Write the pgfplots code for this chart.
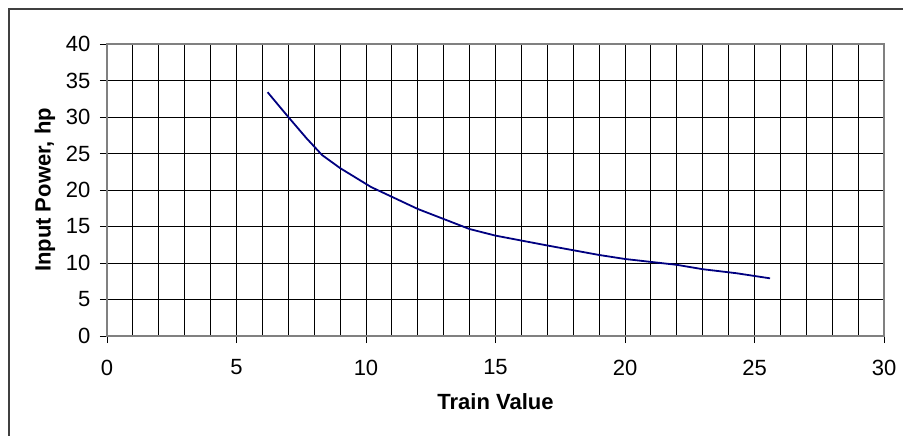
\documentclass[border=0pt]{standalone}
\usepackage{pgfplots}
\pgfplotsset{compat=1.18}
\usepackage{fontspec}
\setmainfont{Liberation Sans}
\definecolor{navyline}{RGB}{0,0,128}
\definecolor{framegray}{RGB}{128,128,128}
\begin{document}
\fontsize{11bp}{13bp}\selectfont
\begin{tikzpicture}
\useasboundingbox (-53.5bp,-50bp) rectangle (398bp,168bp);
\begin{axis}[
  at={(0,0)}, anchor=south west,
  scale only axis,
  width=388.5bp, height=146bp,
  xmin=0, xmax=30, ymin=0, ymax=40,
  xtick={0,5,...,30}, ytick={0,5,...,40},
  minor x tick num=4,
  grid=both,
  major grid style={black, line width=0.5bp},
  minor grid style={black, line width=0.5bp},
  axis line style={framegray, line width=0.7bp},
  tick pos=left,
  tick align=outside,
  major tick length=3.5bp,
  minor tick length=0pt,
  tick style={black, line width=0.5bp},
  /pgf/number format/assume math mode=true,
  ticklabel style={font=\fontsize{11bp}{13bp}\selectfont},
  xticklabel style={yshift=-4.5bp},
  yticklabel style={xshift=-1bp},
  xlabel={\textbf{Train Value}},
  ylabel={\textbf{Input Power, hp}},
  label style={font=\fontsize{11bp}{13bp}\selectfont},
  xlabel style={at={(axis description cs:0.5,0)}, anchor=center, yshift=-33bp},
  ylabel style={at={(axis description cs:0,0.5)}, anchor=center, rotate=0, yshift=31bp},
]
\addplot[navyline, line width=0.9bp] coordinates {
  (6.2,33.4) (7.0,30.0) (7.7,27.1) (8.3,24.8) (9.0,23.0) (10.2,20.4) (12.0,17.4) (14.0,14.65)
  (15.0,13.75) (17.0,12.4) (19.0,11.1) (20.0,10.55) (22.0,9.75)
  (23.0,9.15) (24.3,8.6) (25.6,7.9)
};
\end{axis}
\draw[black!75, line width=0.8bp] (-49bp,-50bp) -- (-49bp,163.5bp) -- (398bp,163.5bp);
\end{tikzpicture}
\end{document}
